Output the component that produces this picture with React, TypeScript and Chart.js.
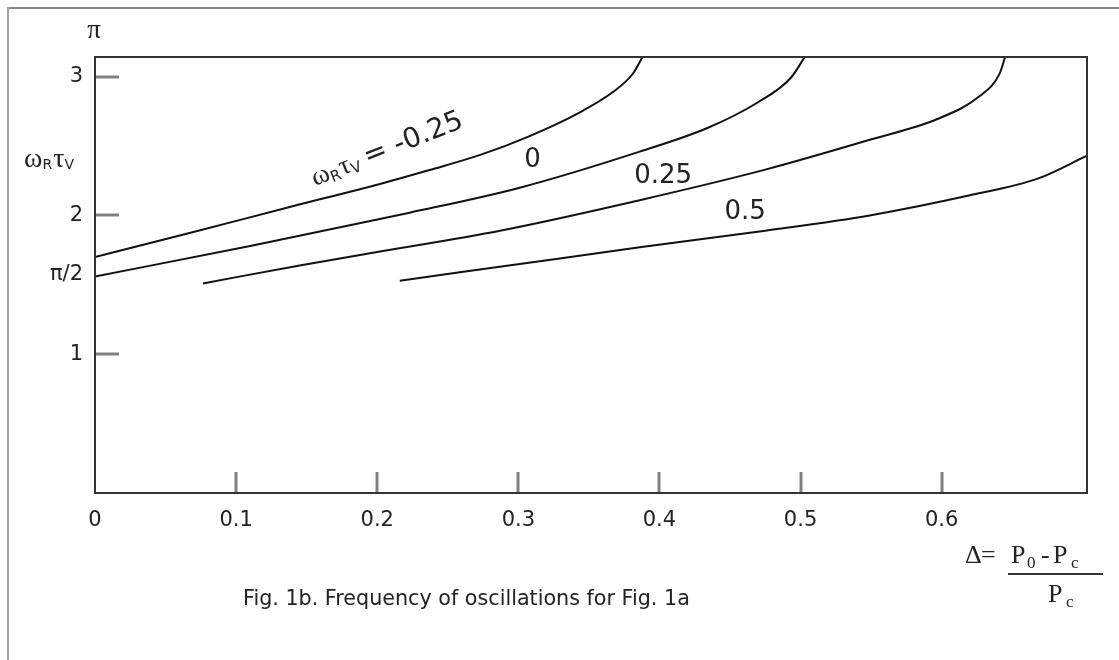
import React, { useEffect, useRef } from "react";
import { Chart, registerables } from "chart.js";

Chart.register(...registerables);

// ---- axis ticks ----
const X_TICKS = [0, 0.1, 0.2, 0.3, 0.4, 0.5, 0.6];
const X_TICK_LABELS = ["0", "0.1", "0.2", "0.3", "0.4", "0.5", "0.6"];
const Y_TICKS = [1, Math.PI / 2, 2, 3];
const Y_TICK_LABELS = ["1", "π/2", "2", "3"];
const X_MIN = 0;
const X_MAX = 0.703;
const Y_MIN = 0;
const Y_MAX = Math.PI;

// ---- series (ωRτv = -0.25, 0, 0.25, 0.5) ----
const SERIES_NAMES = ["-0.25", "0", "0.25", "0.5"];

const M025_X = [0, 0.067, 0.138, 0.202, 0.237, 0.273, 0.308, 0.344, 0.367, 0.381, 0.388];
const M025_Y = [1.7, 1.873, 2.061, 2.227, 2.327, 2.436, 2.572, 2.745, 2.889, 3.019, 3.142];

const Z0_X = [0, 0.11, 0.223, 0.301, 0.386, 0.434, 0.469, 0.493, 0.503];
const Z0_Y = [1.56, 1.78, 2.02, 2.2, 2.46, 2.63, 2.81, 2.99, 3.142];

const P025_X = [0.0765, 0.145, 0.202, 0.287, 0.386, 0.475, 0.549, 0.597, 0.627, 0.641, 0.645];
const P025_Y = [1.51, 1.64, 1.74, 1.89, 2.11, 2.33, 2.545, 2.695, 2.86, 3.02, 3.142];

const P05_X = [0.216, 0.301, 0.386, 0.475, 0.549, 0.62, 0.668, 0.703];
const P05_Y = [1.53, 1.65, 1.77, 1.89, 2.0, 2.145, 2.265, 2.43];

const SERIES_X = [M025_X, Z0_X, P025_X, P05_X];
const SERIES_Y = [M025_Y, Z0_Y, P025_Y, P05_Y];

// curve labels (text) and where they sit, in data units
const CURVE_LABELS = ["0", "0.25", "0.5"];
const CURVE_LABEL_X = [0.31, 0.4026, 0.4607];
const CURVE_LABEL_Y = [2.4, 2.284, 2.024];

const CAPTION = "Fig. 1b. Frequency of oscillations for Fig. 1a";

const SANS = '"DejaVu Sans", Verdana, sans-serif';
const SERIF = '"Liberation Serif", "Times New Roman", serif';
const TEXT = "#222";

const decorPlugin = {
  id: "decor",
  beforeDraw(chart: any) {
    const ctx = chart.ctx as CanvasRenderingContext2D;
    ctx.save();
    ctx.fillStyle = "#ffffff";
    ctx.fillRect(0, 0, chart.width, chart.height);
    ctx.fillStyle = "#8a8a8a";
    ctx.fillRect(7, 7, chart.width - 7, 2);
    ctx.fillStyle = "#a3a3a3";
    ctx.fillRect(7, 7, 2, chart.height - 7);
    ctx.restore();
  },
  afterDatasetsDraw(chart: any) {
    const ctx = chart.ctx as CanvasRenderingContext2D;
    const a = chart.chartArea;
    ctx.save();
    ctx.strokeStyle = "#333";
    ctx.lineWidth = 2;
    ctx.strokeRect(a.left, a.top, a.right - a.left, a.bottom - a.top);
    ctx.restore();
  },
  afterDraw(chart: any) {
    const ctx = chart.ctx as CanvasRenderingContext2D;
    const a = chart.chartArea;
    const xs = chart.scales.x;
    const ys = chart.scales.y;
    ctx.save();
    ctx.fillStyle = TEXT;
    ctx.textBaseline = "alphabetic";

    // π at top of y axis
    ctx.font = `27px ${SERIF}`;
    ctx.textAlign = "center";
    ctx.fillText("π", a.left - 1, a.top - 19);

    // y axis title ωRτv
    ctx.textAlign = "left";
    let x = 24;
    const yb = 167;
    ctx.font = `28px ${SERIF}`;
    ctx.fillText("ω", x, yb);
    x += ctx.measureText("ω").width;
    ctx.font = `14px ${SANS}`;
    ctx.fillText("R", x, yb + 2);
    x += ctx.measureText("R").width + 1;
    ctx.font = `28px ${SERIF}`;
    ctx.fillText("τ", x, yb);
    x += ctx.measureText("τ").width;
    ctx.font = `14px ${SANS}`;
    ctx.fillText("V", x, yb + 2);

    // curve labels
    ctx.font = `26px ${SANS}`;
    ctx.textAlign = "center";
    ctx.textBaseline = "middle";
    CURVE_LABELS.forEach((t, i) => {
      ctx.fillText(t, xs.getPixelForValue(CURVE_LABEL_X[i]), ys.getPixelForValue(CURVE_LABEL_Y[i]));
    });

    // rotated label on first curve
    ctx.save();
    ctx.translate(315, 186);
    ctx.rotate((-21.5 * Math.PI) / 180);
    ctx.textAlign = "left";
    ctx.textBaseline = "alphabetic";
    let rx = 0;
    ctx.font = `27px ${SERIF}`;
    ctx.fillText("ω", rx, 0);
    rx += ctx.measureText("ω").width;
    ctx.font = `15px ${SANS}`;
    ctx.fillText("R", rx, 3);
    rx += ctx.measureText("R").width + 1;
    ctx.font = `27px ${SERIF}`;
    ctx.fillText("τ", rx, 0);
    rx += ctx.measureText("τ").width;
    ctx.font = `15px ${SANS}`;
    ctx.fillText("V", rx, 3);
    rx += ctx.measureText("V").width + 6;
    ctx.font = `28px ${SANS}`;
    ctx.fillText("= " + SERIES_NAMES[0], rx, 0);
    ctx.restore();

    // Δ formula
    ctx.textAlign = "left";
    ctx.textBaseline = "alphabetic";
    ctx.font = `26px ${SERIF}`;
    ctx.fillText("Δ", 965, 563);
    ctx.fillText("=", 981, 563);
    ctx.fillText("P", 1011, 563);
    ctx.font = `17px ${SERIF}`;
    ctx.fillText("0", 1027, 568);
    ctx.font = `26px ${SERIF}`;
    ctx.fillText("-", 1041, 563);
    ctx.fillText("P", 1053, 563);
    ctx.font = `17px ${SERIF}`;
    ctx.fillText("c", 1071, 568);
    ctx.fillStyle = "#333";
    ctx.fillRect(1008, 573, 95, 2);
    ctx.fillStyle = TEXT;
    ctx.font = `26px ${SERIF}`;
    ctx.fillText("P", 1048, 602);
    ctx.font = `17px ${SERIF}`;
    ctx.fillText("c", 1066, 607);

    // caption
    ctx.font = `20.7px ${SANS}`;
    ctx.fillText(CAPTION, 243, 605);
    ctx.restore();
  },
};

export default function App() {
  const canvasRef = useRef<HTMLCanvasElement | null>(null);

  useEffect(() => {
    if (!canvasRef.current) return;
    const datasets = SERIES_NAMES.map((name, s) => ({
      label: name,
      data: SERIES_X[s].map((xv, i) => ({ x: xv, y: SERIES_Y[s][i] })),
      borderColor: "#111",
      borderWidth: 2,
      pointRadius: 0,
      fill: false,
      cubicInterpolationMode: "monotone" as const,
    }));

    const chart = new Chart(canvasRef.current, {
      type: "line",
      data: { datasets },
      plugins: [decorPlugin],
      options: {
        responsive: false,
        animation: false,
        devicePixelRatio: 1,
        layout: { padding: { left: 0, top: 57, right: 32, bottom: 127 } },
        plugins: {
          legend: { display: false },
          tooltip: { enabled: false },
          title: { display: false },
        },
        scales: {
          x: {
            type: "linear",
            min: X_MIN,
            max: X_MAX,
            afterBuildTicks: (axis: any) => {
              axis.ticks = X_TICKS.map((v) => ({ value: v }));
            },
            afterFit: (axis: any) => {
              axis.height = 40;
            },
            border: { display: false },
            grid: {
              drawOnChartArea: false,
              drawTicks: true,
              tickLength: -21,
              tickWidth: 3,
              lineWidth: 0,
              tickColor: (c: any) => (c.tick && c.tick.value === 0 ? "rgba(0,0,0,0)" : "#808080"),
            },
            ticks: {
              autoSkip: false,
              maxRotation: 0,
              padding: 36,
              color: TEXT,
              font: { family: SANS, size: 21 },
              callback: (_v: any, i: number) => X_TICK_LABELS[i],
            },
          },
          y: {
            type: "linear",
            min: Y_MIN,
            max: Y_MAX,
            afterBuildTicks: (axis: any) => {
              axis.ticks = Y_TICKS.map((v) => ({ value: v }));
            },
            afterFit: (axis: any) => {
              axis.width = 95;
            },
            border: { display: false },
            grid: {
              drawOnChartArea: false,
              drawTicks: true,
              tickLength: -24,
              tickWidth: 3,
              lineWidth: 0,
              tickColor: (c: any) =>
                c.tick && Math.abs(c.tick.value - Math.PI / 2) < 1e-6 ? "rgba(0,0,0,0)" : "#808080",
            },
            ticks: {
              autoSkip: false,
              padding: 36,
              color: TEXT,
              font: { family: SANS, size: 21 },
              callback: (_v: any, i: number) => Y_TICK_LABELS[i],
            },
          },
        },
      } as any,
    });
    return () => chart.destroy();
  }, []);

  return (
    <div style={{ position: "absolute", left: 0, top: 0, width: 1119, height: 660, background: "#fff" }}>
      <canvas ref={canvasRef} width={1119} height={660} style={{ display: "block" }} />
    </div>
  );
}
